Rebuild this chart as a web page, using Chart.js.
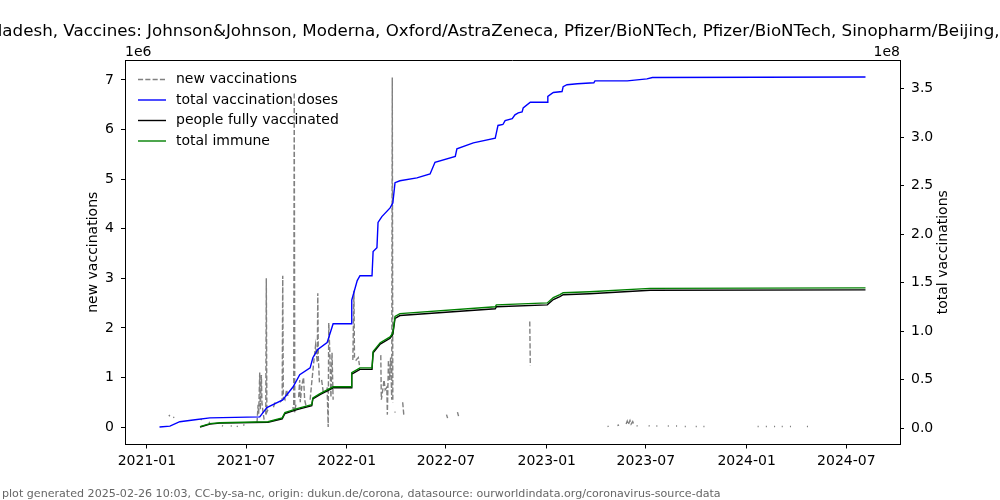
<!DOCTYPE html>
<html>
<head>
<meta charset="utf-8">
<script src="https://cdn.jsdelivr.net/npm/chart.js@4.4.1/dist/chart.umd.min.js"></script>
<style>
  body { margin: 0; background: #fff; }
  #wrap { width: 1000px; height: 500px; }
</style>
</head>
<body>
<div id="wrap"><canvas id="chart" width="1000" height="500"></canvas></div>
<script>
const titleText = "Bangladesh, Vaccines: Johnson&Johnson, Moderna, Oxford/AstraZeneca, Pfizer/BioNTech, Pfizer/BioNTech, Sinopharm/Beijing, Sinovac";
const footerText = "plot generated 2025-02-26 10:03, CC-by-sa-nc, origin: dukun.de/corona, datasource: ourworldindata.org/coronavirus-source-data";

const xTickLabels = ["2021-01", "2021-07", "2022-01", "2022-07", "2023-01", "2023-07", "2024-01", "2024-07"];
const leftTicks = [0, 1e6, 2e6, 3e6, 4e6, 5e6, 6e6, 7e6];
const rightTicks = [0, 0.5e8, 1e8, 1.5e8, 2e8, 2.5e8, 3e8, 3.5e8];

// new vaccinations per day (null = no report, line is broken there)
const newVacDates = [
  "2021-02-10", "2021-02-12", "2021-02-14", "2021-02-18", "2021-02-20", "2021-02-22",
  "2021-04-09", "2021-04-11", "2021-04-13", "2021-04-24", "2021-04-26", "2021-04-28",
  "2021-05-18", "2021-05-20", "2021-05-22", "2021-06-03", "2021-06-05", "2021-06-07",
  "2021-06-14", "2021-06-16", "2021-06-18", "2021-06-26", "2021-06-28", "2021-06-30",
  "2021-07-21", "2021-07-23", "2021-07-24", "2021-07-26", "2021-07-27", "2021-07-29",
  "2021-07-30", "2021-08-01", "2021-08-03", "2021-08-04",
  "2021-08-06", "2021-08-07", "2021-08-08", "2021-08-10", "2021-08-12",
  "2021-08-20", "2021-08-23", "2021-08-25",
  "2021-09-01", "2021-09-05", "2021-09-06", "2021-09-07", "2021-09-10", "2021-09-13", "2021-09-16", "2021-09-18",
  "2021-09-24", "2021-09-26", "2021-09-27", "2021-09-28", "2021-09-30", "2021-10-02",
  "2021-10-05", "2021-10-07", "2021-10-08", "2021-10-11", "2021-10-14", "2021-10-16", "2021-10-19", "2021-10-21",
  "2021-10-26", "2021-10-29", "2021-11-02", "2021-11-05", "2021-11-08", "2021-11-09", "2021-11-10", "2021-11-12", "2021-11-14",
  "2021-11-16", "2021-11-19", "2021-11-21",
  "2021-11-26", "2021-11-28", "2021-11-29", "2021-12-01", "2021-12-03", "2021-12-05", "2021-12-07", "2021-12-09",
  "2022-01-12", "2022-01-14", "2022-01-15", "2022-01-18", "2022-01-22", "2022-01-24", "2022-01-26",
  "2022-03-04", "2022-03-05", "2022-03-07", "2022-03-10", "2022-03-12", "2022-03-15", "2022-03-16",
  "2022-03-18", "2022-03-20", "2022-03-22", "2022-03-24", "2022-03-25", "2022-03-26", "2022-03-27",
  "2022-03-29", "2022-03-31", "2022-04-02",
  "2022-04-13", "2022-04-15", "2022-04-17",
  "2022-07-02", "2022-07-04", "2022-07-06", "2022-07-22", "2022-07-24", "2022-07-26",
  "2022-12-01", "2022-12-02", "2022-12-04",
  "2023-04-22", "2023-04-24", "2023-04-26", "2023-05-10", "2023-05-13", "2023-05-15",
  "2023-05-26", "2023-05-28", "2023-05-30", "2023-06-02", "2023-06-04", "2023-06-07", "2023-06-09", "2023-06-11",
  "2023-06-14", "2023-06-16", "2023-06-18", "2023-07-06", "2023-07-08", "2023-07-10",
  "2023-07-20", "2023-07-22", "2023-07-24", "2023-08-10", "2023-08-12", "2023-08-14",
  "2023-08-25", "2023-08-27", "2023-08-29", "2023-09-10", "2023-09-12", "2023-09-14",
  "2023-09-30", "2023-10-02", "2023-10-04", "2023-10-14", "2023-10-16", "2023-10-18",
  "2024-01-21", "2024-01-23", "2024-01-25", "2024-02-05", "2024-02-07", "2024-02-09",
  "2024-02-20", "2024-02-22", "2024-02-24", "2024-03-05", "2024-03-07", "2024-03-09",
  "2024-03-20", "2024-03-22", "2024-03-24", "2024-04-20", "2024-04-22"
];
const newVacValues = [
  0.22e6, 0.24e6, null, 0.20e6, 0.19e6, null,
  0.16e6, 0.14e6, null, 0.10e6, 0.09e6, null,
  0.03e6, 0.02e6, null, 0.02e6, 0.02e6, null,
  0.01e6, 0.02e6, null, 0.03e6, 0.05e6, null,
  0.08e6, 0.45e6, 0.25e6, 1.1e6, 0.35e6, 1.05e6,
  0.5e6, 0.3e6, 0.15e6, null,
  0.25e6, 3.0e6, 0.3e6, 0.35e6, null,
  0.4e6, 0.5e6, null,
  0.5e6, 0.55e6, 3.05e6, 0.6e6, 0.55e6, 0.75e6, 0.6e6, null,
  0.4e6, 0.35e6, 6.75e6, 0.3e6, 0.45e6, null,
  0.6e6, 0.95e6, 0.5e6, 0.85e6, 1.0e6, 0.55e6, 0.4e6, null,
  0.55e6, 0.9e6, 1.35e6, 1.65e6, 1.3e6, 2.7e6, 1.4e6, 0.9e6, null,
  0.95e6, 0.7e6, null,
  0.8e6, 0.0, 2.1e6, 1.5e6, 0.6e6, 1.5e6, 0.55e6, null,
  1.35e6, 2.75e6, 1.4e6, 1.35e6, 1.4e6, 1.25e6, null,
  1.45e6, 0.55e6, 0.7e6, 0.95e6, 0.75e6, 0.8e6, 0.25e6,
  1.35e6, 0.95e6, 1.4e6, 0.55e6, 7.05e6, 0.5e6, null,
  0.3e6, 0.3e6, null,
  0.5e6, 0.25e6, null,
  0.25e6, 0.18e6, null, 0.3e6, 0.22e6, null,
  2.13e6, 1.24e6, null,
  0.01e6, 0.02e6, null, 0.03e6, 0.04e6, null,
  0.06e6, 0.12e6, 0.05e6, 0.13e6, 0.06e6, 0.11e6, 0.05e6, null,
  0.03e6, 0.02e6, null, 0.03e6, 0.02e6, null,
  0.02e6, 0.02e6, null, 0.02e6, 0.02e6, null,
  0.02e6, 0.02e6, null, 0.01e6, 0.01e6, null,
  0.01e6, 0.01e6, null, 0.01e6, 0.01e6, null,
  0.01e6, 0.01e6, null, 0.01e6, 0.01e6, null,
  0.01e6, 0.01e6, null, 0.01e6, 0.01e6, null,
  0.01e6, 0.01e6, null, 0.01e6, 0.01e6
];

// cumulative doses
const totalDates = [
  "2021-01-24", "2021-02-12", "2021-03-02", "2021-03-30", "2021-04-26", "2021-07-26",
  "2021-08-08", "2021-09-06", "2021-09-25", "2021-10-07", "2021-10-26", "2021-10-31",
  "2021-11-09", "2021-11-26", "2021-12-07", "2022-01-09", "2022-01-10", "2022-01-20",
  "2022-01-25", "2022-02-16", "2022-02-18", "2022-02-25", "2022-02-27", "2022-03-06",
  "2022-03-21", "2022-03-26", "2022-03-30", "2022-04-08", "2022-05-09", "2022-06-02",
  "2022-06-11", "2022-07-18", "2022-07-21", "2022-08-20", "2022-09-29", "2022-10-04",
  "2022-10-13", "2022-10-17", "2022-10-30", "2022-11-04", "2022-11-10", "2022-11-17",
  "2022-11-19", "2022-12-02", "2023-01-02", "2023-01-03", "2023-01-13", "2023-01-29",
  "2023-01-31", "2023-02-07", "2023-02-26", "2023-03-28", "2023-03-30", "2023-05-28",
  "2023-07-03", "2023-07-13", "2024-08-05"
];
const totalDoses = [
  0.01e8, 0.02e8, 0.065e8, 0.085e8, 0.105e8, 0.115e8,
  0.21e8, 0.29e8, 0.425e8, 0.55e8, 0.62e8, 0.725e8,
  0.81e8, 0.88e8, 1.075e8, 1.075e8, 1.32e8, 1.52e8,
  1.57e8, 1.57e8, 1.82e8, 1.86e8, 2.12e8, 2.18e8,
  2.27e8, 2.32e8, 2.53e8, 2.55e8, 2.58e8, 2.62e8,
  2.74e8, 2.80e8, 2.88e8, 2.94e8, 2.99e8, 3.12e8,
  3.13e8, 3.17e8, 3.19e8, 3.23e8, 3.25e8, 3.26e8,
  3.30e8, 3.36e8, 3.36e8, 3.42e8, 3.46e8, 3.47e8,
  3.52e8, 3.54e8, 3.55e8, 3.56e8, 3.58e8, 3.58e8,
  3.60e8, 3.615e8, 3.62e8
];

// people fully vaccinated / total immune
const fullyDates = [
  "2021-04-08", "2021-04-26", "2021-05-14", "2021-08-10", "2021-09-05", "2021-09-10",
  "2021-10-02", "2021-10-29", "2021-10-31", "2021-11-13", "2021-12-07", "2022-01-09",
  "2022-01-10", "2022-01-25", "2022-02-16", "2022-02-18", "2022-03-03", "2022-03-21",
  "2022-03-26", "2022-03-30", "2022-04-08", "2022-09-29", "2022-10-01", "2023-01-02",
  "2023-01-13", "2023-01-25", "2023-01-31", "2023-03-20", "2023-07-09", "2024-08-05"
];
const fullyVaccinated = [
  0.01e8, 0.04e8, 0.05e8, 0.06e8, 0.095e8, 0.15e8,
  0.19e8, 0.23e8, 0.30e8, 0.345e8, 0.415e8, 0.415e8,
  0.555e8, 0.605e8, 0.605e8, 0.775e8, 0.865e8, 0.925e8,
  0.965e8, 1.13e8, 1.16e8, 1.23e8, 1.25e8, 1.27e8,
  1.325e8, 1.355e8, 1.375e8, 1.385e8, 1.42e8, 1.425e8
];
const totalImmune = [
  0.015e8, 0.045e8, 0.055e8, 0.065e8, 0.105e8, 0.16e8,
  0.20e8, 0.24e8, 0.31e8, 0.355e8, 0.425e8, 0.425e8,
  0.57e8, 0.62e8, 0.62e8, 0.79e8, 0.88e8, 0.94e8,
  0.98e8, 1.15e8, 1.18e8, 1.25e8, 1.27e8, 1.29e8,
  1.345e8, 1.375e8, 1.395e8, 1.405e8, 1.44e8, 1.445e8
];

const toPoints = (dates, values) => dates.map((d, i) => ({ x: Date.parse(d), y: values[i] }));

const FONT = "DejaVu Sans";
Chart.defaults.font.family = FONT;
Chart.defaults.font.size = 14;
Chart.defaults.color = "#000";

const legendItems = [
  { label: "new vaccinations", color: "#808080", dash: [5.1, 2.2] },
  { label: "total vaccination doses", color: "#0000ff", dash: [] },
  { label: "people fully vaccinated", color: "#000000", dash: [] },
  { label: "total immune", color: "#008000", dash: [] },
];

const decorPlugin = {
  id: "decor",
  afterDraw(chart) {
    const { ctx, chartArea: a } = chart;
    ctx.save();
    // top spine
    ctx.strokeStyle = "#000";
    ctx.lineWidth = 1;
    ctx.beginPath();
    ctx.moveTo(a.left, a.top + 0.5);
    ctx.lineTo(a.right, a.top + 0.5);
    ctx.stroke();

    ctx.fillStyle = "#000";
    ctx.font = `16.7px ${FONT}`;
    ctx.textAlign = "center";
    ctx.textBaseline = "alphabetic";
    ctx.fillText(titleText, (a.left + a.right) / 2, 36);

    ctx.font = `14px ${FONT}`;
    ctx.textAlign = "left";
    ctx.fillText("1e6", a.left, 56);
    ctx.textAlign = "right";
    ctx.fillText("1e8", a.right, 56);

    // axis titles
    const midY = (a.top + a.bottom) / 2;
    ctx.textAlign = "center";
    ctx.textBaseline = "middle";
    ctx.save();
    ctx.translate(93, midY);
    ctx.rotate(-Math.PI / 2);
    ctx.fillText("new vaccinations", 0, 0);
    ctx.restore();
    ctx.save();
    ctx.translate(943, midY);
    ctx.rotate(-Math.PI / 2);
    ctx.fillText("total vaccinations", 0, 0);
    ctx.restore();

    // legend
    ctx.textAlign = "left";
    legendItems.forEach((it, i) => {
      const y = 79.5 + i * 20.5;
      ctx.strokeStyle = it.color;
      ctx.lineWidth = 1.4;
      ctx.setLineDash(it.dash);
      ctx.beginPath();
      ctx.moveTo(138, y);
      ctx.lineTo(166, y);
      ctx.stroke();
      ctx.setLineDash([]);
      ctx.fillStyle = "#000";
      ctx.fillText(it.label, 176, y);
    });

    // footer
    ctx.fillStyle = "#666";
    ctx.font = `11.1px ${FONT}`;
    ctx.textBaseline = "middle";
    ctx.fillText(footerText, 2, 494);
    ctx.restore();
  },
};

const lineBase = { pointRadius: 0, borderWidth: 1.4, tension: 0, spanGaps: false, fill: false };

new Chart(document.getElementById("chart"), {
  type: "line",
  data: {
    datasets: [
      { ...lineBase, label: "new vaccinations", data: toPoints(newVacDates, newVacValues),
        borderColor: "#808080", borderDash: [5.1, 2.2], yAxisID: "y", order: 4 },
      { ...lineBase, label: "total vaccination doses", data: toPoints(totalDates, totalDoses),
        borderColor: "#0000ff", yAxisID: "y1", order: 3 },
      { ...lineBase, label: "people fully vaccinated", data: toPoints(fullyDates, fullyVaccinated),
        borderColor: "#000000", yAxisID: "y1", order: 2 },
      { ...lineBase, label: "total immune", data: toPoints(fullyDates, totalImmune),
        borderColor: "#008000", yAxisID: "y1", order: 1 },
    ],
  },
  options: {
    responsive: false,
    animation: false,
    devicePixelRatio: 1,
    layout: { padding: { top: 60, left: 0, right: 0, bottom: 0 } },
    plugins: { legend: { display: false }, tooltip: { enabled: false } },
    scales: {
      x: {
        type: "linear",
        min: Date.parse("2020-11-22"),
        max: Date.parse("2024-10-07"),
        afterBuildTicks: (s) => { s.ticks = xTickLabels.map((l) => ({ value: Date.parse(l + "-01") })); },
        afterFit: (s) => { s.height = 55.5; },
        ticks: { autoSkip: false, maxRotation: 0, padding: 4, callback: (v, i) => xTickLabels[i] },
        grid: { drawOnChartArea: false, tickLength: 4, color: "#000" },
        border: { color: "#000" },
      },
      y: {
        position: "left",
        min: -0.3525e6,
        max: 7.4025e6,
        afterBuildTicks: (s) => { s.ticks = leftTicks.map((v) => ({ value: v })); },
        afterFit: (s) => { s.width = 125; },
        ticks: { padding: 7, callback: (v) => String(v / 1e6) },
        grid: { drawOnChartArea: false, tickLength: 4, color: "#000" },
        border: { color: "#000" },
      },
      y1: {
        position: "right",
        min: -0.17e8,
        max: 3.795e8,
        afterBuildTicks: (s) => { s.ticks = rightTicks.map((v) => ({ value: v })); },
        afterFit: (s) => { s.width = 100; },
        ticks: { padding: 7, callback: (v) => (v / 1e8).toFixed(1) },
        grid: { drawOnChartArea: false, tickLength: 4, color: "#000" },
        border: { color: "#000" },
      },
    },
  },
  plugins: [decorPlugin],
});
</script>
</body>
</html>
